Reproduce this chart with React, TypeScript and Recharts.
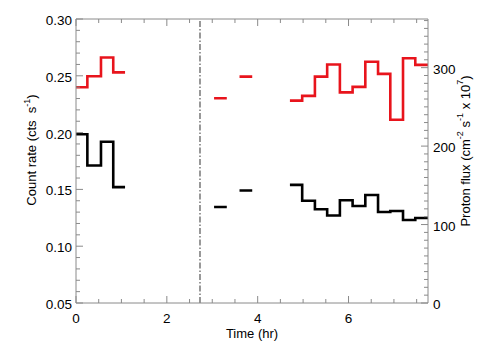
import { LineChart, Line, XAxis, YAxis, ReferenceLine } from "recharts";

// step bins, grouped by contiguous observing windows (hr)
const segmentEdges = [
  [0, 0.25, 0.55, 0.82, 1.08],
  [3.04, 3.32],
  [3.6, 3.88],
  [4.71, 4.98, 5.26, 5.53, 5.81, 6.09, 6.37, 6.65, 6.92, 7.2, 7.47, 7.75],
];
const countRate = [
  [0.1985, 0.171, 0.192, 0.152],
  [0.1345],
  [0.149],
  [0.154, 0.14, 0.1325, 0.127, 0.1404, 0.1354, 0.1451, 0.1301, 0.131, 0.1231, 0.1248],
];
const protonFlux = [
  [275, 289, 313, 294],
  [261],
  [288.5],
  [258, 264, 288.5, 304, 268.5, 275.5, 307.5, 292, 233.5, 312, 303.5],
];
const flareTime = 2.73;

const timeTicks = [0, 0.5, 1, 1.5, 2, 2.5, 3, 3.5, 4, 4.5, 5, 5.5, 6, 6.5, 7, 7.5];
const timeLabels = [0, 2, 4, 6];
const rateTicks = [
  0.05, 0.06, 0.07, 0.08, 0.09, 0.1, 0.11, 0.12, 0.13, 0.14, 0.15, 0.16, 0.17,
  0.18, 0.19, 0.2, 0.21, 0.22, 0.23, 0.24, 0.25, 0.26, 0.27, 0.28, 0.29, 0.3,
];
const rateLabels = [0.05, 0.1, 0.15, 0.2, 0.25, 0.3];
const fluxTicks = [
  0, 10, 20, 30, 40, 50, 60, 70, 80, 90, 100, 110, 120, 130, 140, 150, 160, 170,
  180, 190, 200, 210, 220, 230, 240, 250, 260, 270, 280, 290, 300, 310, 320, 330,
  340, 350, 360,
];
const fluxLabels = [0, 100, 200, 300];

const W = 504;
const H = 360;
const TOP = 19;
const AXIS = "#8a8a8a";
const FONT = "'Liberation Sans', Arial, Helvetica, sans-serif";

const data: { t: number; cr: number | null; pf: number | null }[] = [];
segmentEdges.forEach((edges, g) => {
  const cr = countRate[g];
  const pf = protonFlux[g];
  cr.forEach((v, i) => data.push({ t: edges[i], cr: v, pf: pf[i] }));
  const last = cr.length - 1;
  data.push({ t: edges[edges.length - 1], cr: cr[last], pf: pf[last] });
  if (g < segmentEdges.length - 1) {
    const next = segmentEdges[g + 1][0];
    data.push({ t: (edges[edges.length - 1] + next) / 2, cr: null, pf: null });
  }
});

const near = (list: number[], v: number) => list.some((m) => Math.abs(m - v) < 1e-6);

function TimeTick(props: any) {
  const { x, y, payload } = props;
  const axisY = y - 6;
  const major = near(timeLabels, payload.value);
  const len = major ? 7 : 4;
  return (
    <g>
      <line x1={x} x2={x} y1={axisY} y2={axisY - len} stroke={AXIS} />
      <line x1={x} x2={x} y1={TOP} y2={TOP + len} stroke={AXIS} />
      {major && (
        <text x={x} y={axisY + 20} textAnchor="middle" fontSize={13.5} fontFamily={FONT} fill="#000">
          {payload.value}
        </text>
      )}
    </g>
  );
}

function RateTick(props: any) {
  const { x, y, payload } = props;
  const axisX = x + 4;
  const major = near(rateLabels, payload.value);
  const len = major ? 7 : 4;
  return (
    <g>
      <line x1={axisX} x2={axisX + len} y1={y} y2={y} stroke={AXIS} />
      {major && (
        <text x={x} y={y + 6} textAnchor="end" fontSize={13.5} fontFamily={FONT} fill="#000">
          {payload.value.toFixed(2)}
        </text>
      )}
    </g>
  );
}

function FluxTick(props: any) {
  const { x, y, payload } = props;
  const axisX = x - 5;
  const major = near(fluxLabels, payload.value);
  const len = major ? 7 : 4;
  return (
    <g>
      <line x1={axisX} x2={axisX - len} y1={y} y2={y} stroke={AXIS} />
      {major && (
        <text x={x} y={y + 6} textAnchor="start" fontSize={13.5} fontFamily={FONT} fill="#000">
          {payload.value}
        </text>
      )}
    </g>
  );
}

function TimeTitle() {
  return (
    <text x={252} y={338} textAnchor="middle" fontSize={13} fontFamily={FONT} fill="#000">
      Time (hr)
    </text>
  );
}

function RateTitle() {
  const cx = 36;
  const cy = 150;
  return (
    <text
      x={cx}
      y={cy}
      transform={`rotate(-90, ${cx}, ${cy})`}
      textAnchor="middle"
      fontSize={13}
      fontFamily={FONT}
      fill="#000"
      style={{ whiteSpace: "pre" }}
    >
      Count rate (cts  s
      <tspan dy={-6} fontSize={9}>-1</tspan>
      <tspan dy={6}>)</tspan>
    </text>
  );
}

function FluxTitle() {
  const cx = 470;
  const cy = 151;
  return (
    <text
      x={cx}
      y={cy}
      transform={`rotate(-90, ${cx}, ${cy})`}
      textAnchor="middle"
      fontSize={13}
      fontFamily={FONT}
      fill="#000"
      style={{ whiteSpace: "pre" }}
    >
      Proton flux (cm
      <tspan dy={-7} fontSize={9}>-2</tspan>
      <tspan dy={7}> s</tspan>
      <tspan dy={-7} fontSize={9}>-1</tspan>
      <tspan dy={7}> x 10</tspan>
      <tspan dy={-7} fontSize={9}>7</tspan>
      <tspan dy={7}>)</tspan>
    </text>
  );
}

export default function App() {
  return (
    <div style={{ position: "absolute", left: 0, top: 0, width: W, height: H, background: "#fff" }}>
      <LineChart width={W} height={H} data={data} margin={{ top: TOP, right: 16, bottom: 27, left: 16 }}>
        <XAxis
          dataKey="t"
          type="number"
          domain={[0, 7.75]}
          allowDataOverflow
          ticks={timeTicks}
          interval={0}
          tickSize={0}
          tickMargin={6}
          height={30}
          stroke={AXIS}
          tick={<TimeTick />}
          label={<TimeTitle />}
        />
        <YAxis
          yAxisId="left"
          orientation="left"
          type="number"
          domain={[0.05, 0.3]}
          allowDataOverflow
          ticks={rateTicks}
          interval={0}
          tickSize={0}
          tickMargin={4}
          width={60}
          stroke={AXIS}
          tick={<RateTick />}
          label={<RateTitle />}
        />
        <YAxis
          yAxisId="right"
          orientation="right"
          type="number"
          domain={[0, 362]}
          allowDataOverflow
          ticks={fluxTicks}
          interval={0}
          tickSize={0}
          tickMargin={5}
          width={60}
          stroke={AXIS}
          tick={<FluxTick />}
          label={<FluxTitle />}
        />
        <ReferenceLine yAxisId="left" y={0.3} stroke={AXIS} />
        <ReferenceLine
          yAxisId="left"
          x={flareTime}
          stroke="#555"
          strokeWidth={1.2}
          strokeDasharray="6 2 1.5 2"
        />
        <Line
          yAxisId="right"
          dataKey="pf"
          type="stepAfter"
          stroke="#e8141c"
          strokeWidth={2.6}
          dot={false}
          connectNulls={false}
          isAnimationActive={false}
        />
        <Line
          yAxisId="left"
          dataKey="cr"
          type="stepAfter"
          stroke="#000"
          strokeWidth={2.6}
          dot={false}
          connectNulls={false}
          isAnimationActive={false}
        />
      </LineChart>
    </div>
  );
}
